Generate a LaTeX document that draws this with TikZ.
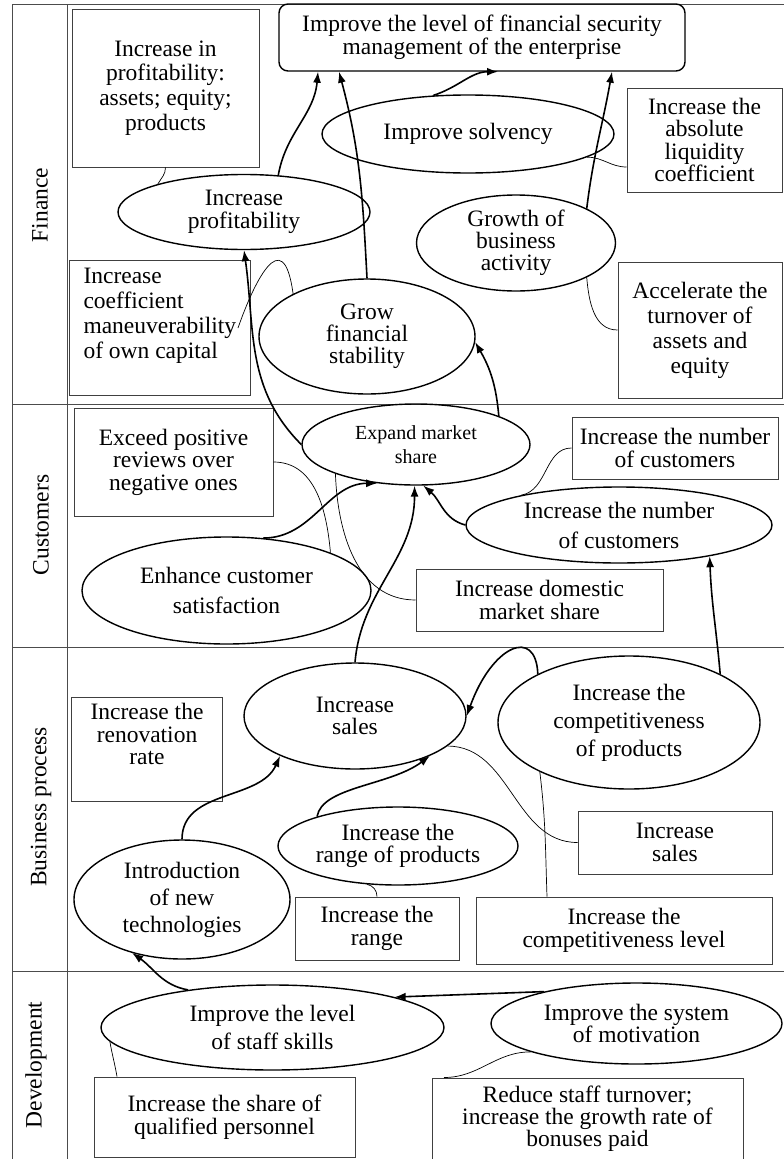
\documentclass[tikz,border=0pt]{standalone}
\usepackage{fontspec}
\setmainfont{Liberation Serif}
\usetikzlibrary{shapes.geometric,arrows.meta}
\begin{document}
\begin{tikzpicture}[x=1pt,y=-1pt,
  every node/.style={font=\fontsize{23.5}{24}\selectfont, align=center, inner sep=0pt},
  ell/.style={draw, line width=1.4pt, ellipse},
  bx/.style={draw=black!75, line width=1pt},
  lane/.style={draw=black!70, line width=1pt},
  arr/.style={line width=1.6pt, -{Latex[length=11pt,width=8pt]}},
  lnk/.style={line width=0.7pt},
  ls/.style={font=\fontsize{23.5}{#1}\selectfont}
]
\useasboundingbox (0,0) rectangle (784,1159);

% lanes
\draw[lane] (12,4) -- (784,4);
\draw[lane] (12,4) -- (12,1159);
\draw[lane] (67,4) -- (67,1159);
\draw[lane] (12,404) -- (784,404);
\draw[lane] (12,647) -- (784,647);
\draw[lane] (12,971) -- (784,971);
\node[rotate=90] (lfin) at (40,205) {Finance};
\node[rotate=90] (lcus) at (41,525) {Customers};
\node[rotate=90] (lbus) at (41,807) {Business process};
\node[rotate=90] (ldev) at (36,1065) {Development};

% Finance
\node[draw, line width=1.4pt, rounded corners=9pt, minimum width=406pt, minimum height=67pt, ls=23.5] (top) at (482,37.5) {Improve the level of financial security\\management of the enterprise};
\node[bx, minimum width=187pt, minimum height=158pt, ls=24.6] (bip) at (165.5,88) {Increase in\\profitability:\\assets; equity;\\products};
\node[ell, minimum width=252pt, minimum height=75pt, ls=22.5] (ip) at (244,212) {Increase\\profitability};
\node[bx, anchor=north west, ls=25] (bcm) at (69,260) {\parbox[c][135pt][t]{181pt}{\raggedright\leftskip=14pt\vspace*{8pt}Increase\\coefficient\\maneuverability\\of own capital}};
\node[ell, minimum width=292pt, minimum height=78pt] (sol) at (468,134) {Improve solvency};
\node[bx, minimum width=155pt, minimum height=104pt, ls=22.5] (bal) at (704.5,140) {Increase the\\absolute\\liquidity\\coefficient};
\node[ell, minimum width=199pt, minimum height=96pt, ls=22] (gba) at (516,243) {Growth of\\business\\activity};
\node[bx, minimum width=164pt, minimum height=136pt, ls=25] (bat) at (700,330) {Accelerate the\\turnover of\\assets and\\equity};
\node[ell, minimum width=216pt, minimum height=115pt, ls=22] (gfs) at (367,336.5) {Grow\\financial\\stability};

% Customers
\node[ell, minimum width=228pt, minimum height=81pt, font=\fontsize{20}{24}\selectfont] (ems) at (416,444.5) {Expand market\\share};
\node[bx, minimum width=199pt, minimum height=108pt, ls=22.5] (bep) at (173.5,462) {Exceed positive\\reviews over\\negative ones};
\node[bx, minimum width=206pt, minimum height=62pt, ls=22.5] (buc) at (675,448) {Increase the number\\of customers};
\node[ell, minimum width=306pt, minimum height=76pt, ls=30] (inc) at (619,525) {Increase the number\\of customers};
\node[ell, minimum width=289pt, minimum height=107pt, ls=30] (ecs) at (226.5,590.5) {Enhance customer\\satisfaction};
\node[bx, minimum width=247pt, minimum height=62pt, ls=22.5] (bdm) at (539.5,600) {Increase domestic\\market share};

% Business process
\node[ell, minimum width=222pt, minimum height=106pt, ls=22.5] (isl) at (355,716) {Increase\\sales};
\node[bx, anchor=north west, ls=22.5] (brr) at (71,697) {\parbox[c][104pt][t]{151pt}{\centering\vspace*{6pt}Increase the\\renovation\\rate}};
\node[ell, minimum width=262pt, minimum height=133pt, ls=28] (icp) at (629,722.5) {Increase the\\competitiveness\\of products};
\node[ell, minimum width=240pt, minimum height=78pt, ls=22.5] (irp) at (398,846) {Increase the\\range of products};
\node[bx, minimum width=194pt, minimum height=63pt, ls=22.5] (bsl) at (675,842.5) {Increase\\sales};
\node[ell, minimum width=216pt, minimum height=119pt, ls=27] (int) at (182,899.5) {Introduction\\of new\\technologies};
\node[bx, minimum width=164pt, minimum height=63pt, ls=23] (brg) at (377,928.5) {Increase the\\range};
\node[bx, minimum width=296pt, minimum height=67pt, ls=22.5] (bcl) at (624,930.5) {Increase the\\competitiveness level};

% Development
\node[ell, minimum width=343pt, minimum height=85pt, ls=28] (sks) at (272.5,1027.5) {Improve the level\\of staff skills};
\node[ell, minimum width=291pt, minimum height=81pt, ls=22.5] (ism) at (636.5,1023.5) {Improve the system\\of motivation};
\node[bx, minimum width=261pt, minimum height=80pt, ls=22.5] (bsh) at (224.5,1117) {Increase the share of\\qualified personnel};
\node[bx, minimum width=311pt, minimum height=82pt, ls=22] (brd) at (587.5,1119) {Reduce staff turnover;\\increase the growth rate of\\bonuses paid};

% thick arrows
\draw[arr] (ip.47) to[out=80,in=-95] ([xshift=-164pt]top.south);
\draw[arr] (gfs.north) to[out=93,in=-75] ([xshift=-143pt]top.south);
\draw[arr] (sol.132) to[out=18,in=180] ([xshift=16pt]top.south);
\draw[arr] (gba.26) to[out=83,in=-100] ([xshift=130pt]top.south);
\draw[arr] (ems.west) to[out=135,in=-82] (ip.south);
\draw[arr] (ems.19) to[out=95,in=-60] (gfs.-3);
\draw[arr] (ecs.55) to[out=0,in=180] (ems.-135);
\draw[arr] (isl.north) to[out=85,in=-90] (ems.-92);
\draw[arr] (inc.west) to[out=165,in=-40] (ems.-80);
\draw[arr] (icp.28) to[out=95,in=-88] (inc.-19);
\draw[arr] (icp.152) .. controls +(-2,-48) and +(25,-70) .. (isl.east);
\draw[arr] (int.north) .. controls +(0,-50) and +(-20,45) .. (isl.-152);
\draw[arr] (irp.160) .. controls +(5,-30) and +(-40,30) .. (isl.-28);
\draw[arr] (ism.161) -- (sks.14);
\draw[arr] (sks.156) to[out=170,in=-35] (int.-133);

% thin links
\draw[lnk] (bip.south) to[out=-90,in=60] (ip.162);
\draw[lnk] ([xshift=-13pt]bcm.east) .. controls +(15,-43) and +(-10,-74) .. (gfs.150);
\draw[lnk] (sol.-11) to[out=0,in=180] ([yshift=-27pt]bal.west);
\draw[lnk] (gba.-26) to[out=-85,in=180] (bat.west);
\draw[lnk] (bep.east) to[out=0,in=95] (ecs.20);
\draw[lnk] (ems.-160) to[out=-88,in=180] (bdm.west);
\draw[lnk] (buc.west) to[out=180,in=10] (inc.163);
\draw[lnk] (isl.-18) to[out=0,in=180] (bsl.west);
\draw[lnk] (icp.-151) to[out=-83,in=92] ([xshift=-77pt]bcl.north);
\draw[lnk] (irp.-129) to[out=-10,in=90] (brg.north);
\draw[lnk] (sks.-175) to[out=-80,in=100] ([xshift=-107.5pt]bsh.north);
\draw[lnk] (ism.-165) to[out=180,in=0] ([xshift=-143.5pt]brd.north);
\end{tikzpicture}
\end{document}
